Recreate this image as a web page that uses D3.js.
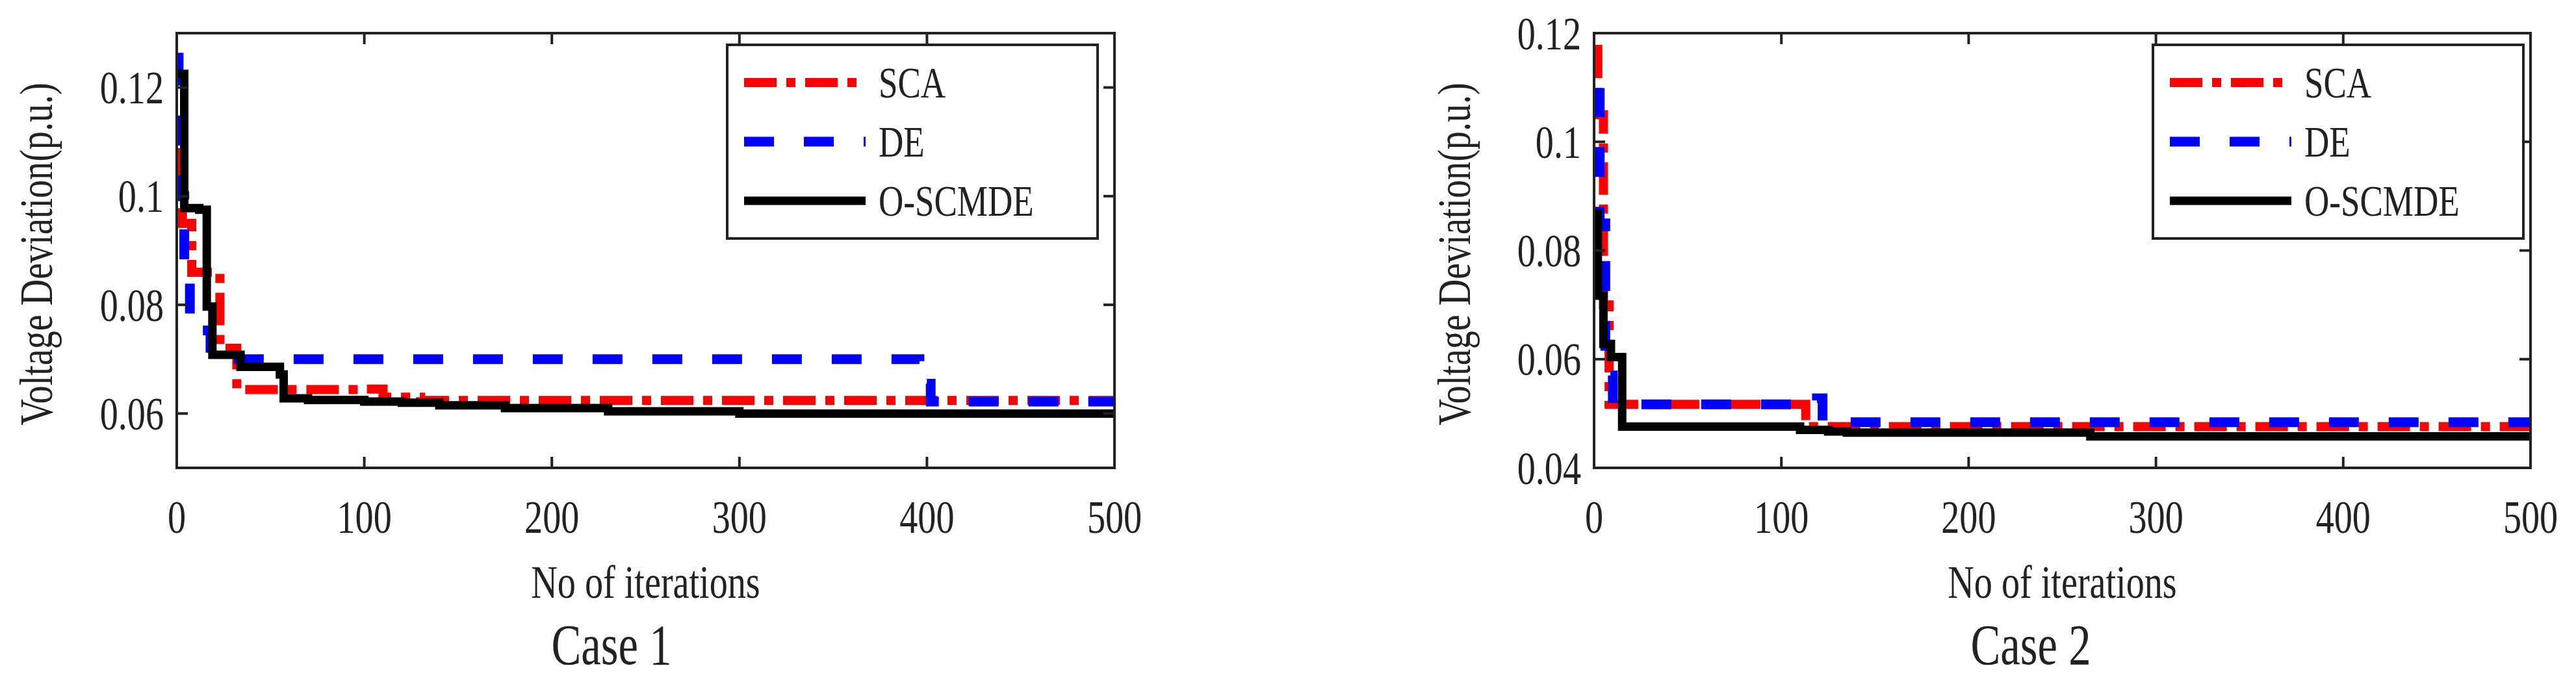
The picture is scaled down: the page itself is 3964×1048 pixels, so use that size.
<!DOCTYPE html>
<html><head><meta charset="utf-8">
<script src="https://cdn.jsdelivr.net/npm/d3@7"></script>
<style>body{margin:0;background:#fff}</style></head>
<body><svg id="c" width="3964" height="1048"></svg>
<script>
const xTicks = [0,100,200,300,400,500];
const yTicks1 = [0.06,0.08,0.1,0.12];
const yTicks2 = [0.04,0.06,0.08,0.1,0.12];
const seriesNames = ["SCA","DE","O-SCMDE"];
// Case 1 (iteration, value) step points
const sca1 = [[0,0.108],[3,0.095],[8,0.086],[23,0.072],[32,0.0644],[100,0.0645],[110,0.063],[130,0.0624],[500,0.0624]];
const de1 = [[0,0.1255],[1,0.1],[4,0.0873],[7,0.0753],[18,0.070],[396,0.0685],[399,0.0655],[402,0.0622],[500,0.0622]];
const os1 = [[0,0.1225],[4,0.0978],[12,0.0975],[16,0.0797],[19,0.0708],[34,0.0686],[55,0.0672],[57,0.0628],[70,0.0625],[100,0.0622],[120,0.062],[140,0.0615],[175,0.061],[230,0.0604],[300,0.060],[500,0.060]];
// Case 2
const sca2 = [[0,0.117],[2,0.105],[5,0.07],[8,0.0517],[113,0.0476],[500,0.0476]];
const de2 = [[0,0.109],[3,0.085],[6,0.057],[10,0.0517],[119,0.0528],[122,0.0484],[500,0.0484]];
const os2 = [[0,0.0868],[2,0.0717],[5,0.0628],[9,0.0604],[15,0.0476],[90,0.0476],[110,0.047],[125,0.0467],[135,0.0465],[262,0.0465],[265,0.0458],[500,0.0458]];

const svg = d3.select("#c");
const F = "'Liberation Serif','Times New Roman',serif";
const styles = [
  {color:"#ff0000", dash:"50,15,14,15", w:14},
  {color:"#0000ff", dash:"46,46", w:15},
  {color:"#000000", dash:null, w:13}
];
function txt(g,x,y,s,size,anchor,rot){
  const t = g.append("g").attr("transform",`translate(${x},${y})${rot?` rotate(${rot})`:""} scale(0.78,1)`);
  t.append("text").attr("text-anchor",anchor||"middle").attr("dominant-baseline","central")
   .attr("font-family",F).attr("font-size",size).attr("fill","#222").text(s);
}
function panel(o){
  const x = d3.scaleLinear().domain([0,500]).range([o.l,o.r]);
  const y = d3.scaleLinear().domain(o.yd).range([720,51]);
  const g = svg.append("g");
  const clip = "clip"+o.id;
  g.append("clipPath").attr("id",clip).append("rect").attr("x",o.l).attr("y",51).attr("width",o.r-o.l).attr("height",669);
  const line = d3.line().x(d=>x(d[0])).y(d=>y(d[1])).curve(d3.curveStepAfter);
  [o.sca,o.de,o.os].forEach((d,i)=>{
    g.append("path").attr("d",line(d)).attr("fill","none").attr("stroke",styles[i].color)
     .attr("stroke-width",styles[i].w).attr("stroke-dasharray",styles[i].dash).attr("clip-path",`url(#${clip})`);
  });
  // frame and ticks
  g.append("rect").attr("x",o.l).attr("y",51).attr("width",o.r-o.l).attr("height",669).attr("fill","none").attr("stroke","#222").attr("stroke-width",4);
  xTicks.forEach(t=>{
    g.append("line").attr("x1",x(t)).attr("x2",x(t)).attr("y1",720).attr("y2",703).attr("stroke","#222").attr("stroke-width",4);
    g.append("line").attr("x1",x(t)).attr("x2",x(t)).attr("y1",51).attr("y2",68).attr("stroke","#222").attr("stroke-width",4);
    txt(g,x(t),795,String(t),72);
  });
  o.yt.forEach(t=>{
    g.append("line").attr("x1",o.l).attr("x2",o.l+17).attr("y1",y(t)).attr("y2",y(t)).attr("stroke","#222").attr("stroke-width",4);
    g.append("line").attr("x1",o.r).attr("x2",o.r-17).attr("y1",y(t)).attr("y2",y(t)).attr("stroke","#222").attr("stroke-width",4);
    txt(g,o.l-20,y(t),d3.format("~g")(t),72,"end");
  });
  txt(g,(o.l+o.r)/2,895,"No of iterations",72);
  txt(g,o.cx,992,o.caseName,88);
  txt(g,o.ylx,391,"Voltage Deviation(p.u.)",72,"middle",-90);
  // legend
  const lg = g.append("g");
  lg.append("rect").attr("x",o.lgx).attr("y",69).attr("width",570).attr("height",298).attr("fill","#fff").attr("stroke","#222").attr("stroke-width",4);
  seriesNames.forEach((n,i)=>{
    const yy = 127+i*91;
    lg.append("line").attr("x1",o.lgx+26).attr("x2",o.lgx+213).attr("y1",yy).attr("y2",yy)
      .attr("stroke",styles[i].color).attr("stroke-width",styles[i].w).attr("stroke-dasharray",styles[i].dash);
    txt(lg,o.lgx+233,yy,n,68,"start");
  });
}
panel({id:1,l:272,r:1715,yd:[0.05,0.13],yt:yTicks1,sca:sca1,de:de1,os:os1,cx:941,caseName:"Case 1",ylx:55,lgx:1119});
panel({id:2,l:2453,r:3894,yd:[0.04,0.12],yt:yTicks2,sca:sca2,de:de2,os:os2,cx:3125,caseName:"Case 2",ylx:2237,lgx:3313});
</script></body></html>
